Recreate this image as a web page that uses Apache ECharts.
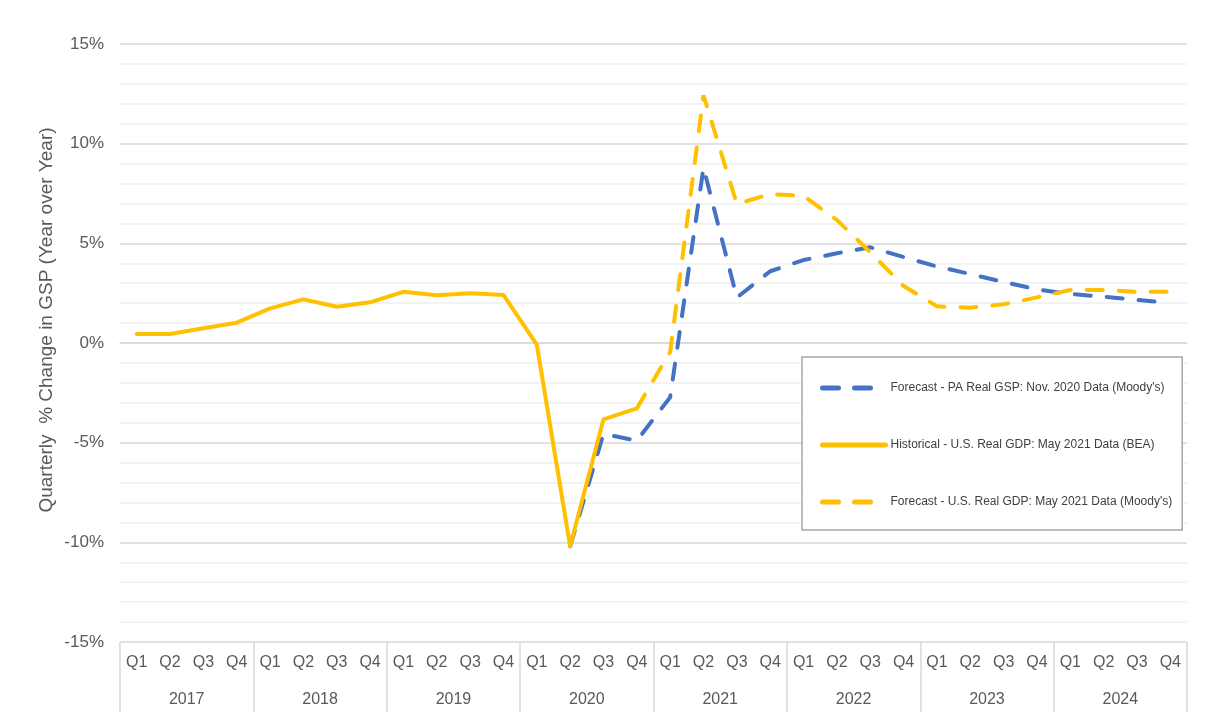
<!DOCTYPE html>
<html>
<head>
<meta charset="utf-8">
<script src="https://cdn.jsdelivr.net/npm/echarts@6/dist/echarts.min.js"></script>
<style>
html,body{margin:0;padding:0;background:#fff;}
#c{width:1209px;height:712px;}
</style>
</head>
<body>
<div id="c"></div>
<script>
var quarters = ['Q1','Q2','Q3','Q4','Q1','Q2','Q3','Q4','Q1','Q2','Q3','Q4','Q1','Q2','Q3','Q4',
                'Q1','Q2','Q3','Q4','Q1','Q2','Q3','Q4','Q1','Q2','Q3','Q4','Q1','Q2','Q3','Q4'];
var years = ['2017','2018','2019','2020','2021','2022','2023','2024'];
var yTicks = [-15, -10, -5, 0, 5, 10, 15];
var yAxisTitle = 'Quarterly  % Change in GSP (Year over Year)';

var seriesNames = [
  'Forecast - PA Real GSP: Nov. 2020 Data (Moody\'s)',
  'Historical - U.S. Real GDP: May 2021 Data (BEA)',
  'Forecast - U.S. Real GDP: May 2021 Data (Moody\'s)'
];

var paForecast = [null,null,null,null, null,null,null,null, null,null,null,null,
                  null,-10.2,-4.56,-4.9,
                  -2.72,8.8,2.28,3.6, 4.16,4.5,4.8,4.31, 3.84,3.46,3.06,2.69, 2.46,2.32,2.16,2.02];
var usHistorical = [0.45,0.45,0.74,1.02, 1.74,2.19,1.82,2.04, 2.57,2.39,2.49,2.41,
                    -0.08,-10.2,-3.83,-3.28,
                    null,null,null,null, null,null,null,null, null,null,null,null, null,null,null,null];
var usForecast = [null,null,null,null, null,null,null,null, null,null,null,null,
                  null,null,null,-3.28,
                  -0.45,12.43,6.97,7.47, 7.38,6.17,4.55,2.86, 1.84,1.77,1.94,2.29, 2.66,2.66,2.57,2.57];

var FONT = "'Liberation Sans',Arial,sans-serif";
var BLUE = '#4472C4', GOLD = '#FFC000';

var chart = echarts.init(document.getElementById('c'));
chart.setOption({
  animation: false,
  textStyle: {fontFamily: FONT},
  grid: {left: 120, right: 22, top: 44, bottom: 70},
  graphic: [{
    type: 'text',
    x: 47, y: 320,
    rotation: Math.PI / 2,
    style: {
      text: yAxisTitle,
      fontSize: 19,
      fontFamily: FONT,
      fill: '#595959',
      align: 'center',
      verticalAlign: 'middle'
    }
  }],
  legend: {
    orient: 'vertical',
    left: 802, top: 357,
    padding: [25, 10, 22, 18],
    itemGap: 45,
    itemWidth: 63, itemHeight: 14,
    borderColor: '#a6a6a6', borderWidth: 1.5,
    backgroundColor: '#fff',
    itemStyle: {opacity: 0},
    lineStyle: {width: 5, cap: 'round'},
    textStyle: {fontFamily: FONT, fontSize: 12, color: '#404040'},
    data: seriesNames
  },
  xAxis: [{
    type: 'category',
    data: quarters,
    boundaryGap: true,
    axisLine: {show: true, lineStyle: {color: '#d9d9d9', width: 1.5}},
    axisTick: {show: false},
    axisLabel: {interval: 0, margin: 13, fontSize: 16, color: '#595959', fontFamily: FONT}
  }, {
    type: 'category',
    data: years,
    position: 'bottom',
    boundaryGap: true,
    axisLine: {show: false},
    axisTick: {show: true, length: 72, lineStyle: {color: '#d9d9d9', width: 1.5}},
    axisLabel: {interval: 0, margin: 50, fontSize: 16, color: '#595959', fontFamily: FONT}
  }],
  yAxis: {
    type: 'value',
    min: yTicks[0], max: yTicks[yTicks.length - 1], interval: 5,
    axisLine: {show: false},
    axisTick: {show: false},
    axisLabel: {formatter: '{value}%', fontSize: 17, color: '#595959', margin: 16, fontFamily: FONT},
    splitLine: {show: true, lineStyle: {color: '#d9d9d9', width: 1.5}},
    minorTick: {show: false, splitNumber: 5},
    minorSplitLine: {show: true, lineStyle: {color: '#f0f0f0', width: 1.5}}
  },
  series: [{
    name: seriesNames[0],
    type: 'line',
    data: paForecast,
    symbol: 'none',
    z: 2,
    lineStyle: {color: BLUE, width: 4, type: [16, 16], cap: 'round'},
    itemStyle: {color: BLUE}
  }, {
    name: seriesNames[1],
    type: 'line',
    data: usHistorical,
    symbol: 'none',
    z: 4,
    lineStyle: {color: GOLD, width: 4, type: 'solid', cap: 'round', join: 'round'},
    itemStyle: {color: GOLD}
  }, {
    name: seriesNames[2],
    type: 'line',
    data: usForecast,
    symbol: 'none',
    z: 3,
    lineStyle: {color: GOLD, width: 4, type: [16, 16], cap: 'round'},
    itemStyle: {color: GOLD}
  }]
});
</script>
</body>
</html>
